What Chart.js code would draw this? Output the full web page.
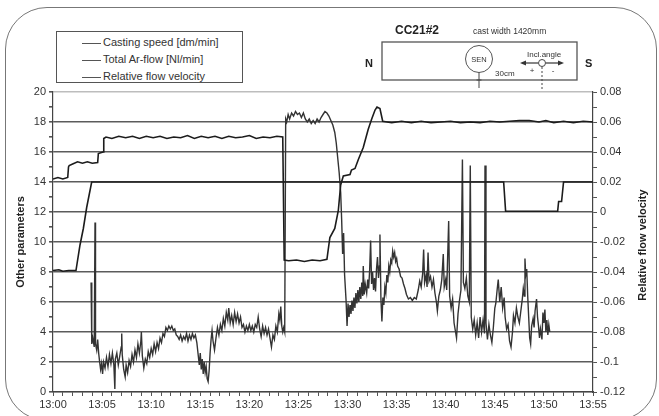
<!DOCTYPE html>
<html><head><meta charset="utf-8">
<script src="https://cdn.jsdelivr.net/npm/chart.js@4/dist/chart.umd.min.js"></script>
<style>
html,body{margin:0;padding:0;background:#fff;}
#wrap{position:relative;width:659px;height:416px;overflow:hidden;font-family:"Liberation Sans",Arial,sans-serif;background:#fff;}
#c{position:absolute;left:0;top:0;}
#frame{position:absolute;left:5px;top:7px;width:652px;height:414px;border:1.5px solid #777;border-radius:42px;box-sizing:border-box;pointer-events:none;}
#legend{position:absolute;left:56px;top:31px;width:187px;height:52px;border:1px solid #555;box-sizing:border-box;background:#fff;}
.row{position:absolute;left:25px;height:14px;font-size:11px;color:#333;line-height:14px;white-space:nowrap;}
.row i{display:inline-block;width:19px;height:0;border-top:1.5px solid #555;vertical-align:middle;margin-right:2px;}
#rtitle{position:absolute;left:642px;top:245px;transform:translate(-50%,-50%) rotate(-90deg);font-weight:bold;font-size:11px;color:#222;white-space:nowrap;}
#diag{position:absolute;left:0;top:0;}
</style></head>
<body>
<div id="wrap">
<canvas id="c" width="659" height="416"></canvas>
<div id="legend"></div>
<div id="rtitle"></div>
<svg id="diag" width="659" height="416" xmlns="http://www.w3.org/2000/svg" font-family="Liberation Sans, Arial, sans-serif">
  <text x="395" y="34" font-size="12" font-weight="bold" fill="#222">CC21#2</text>
  <text x="473" y="34" font-size="8.5" fill="#333">cast width 1420mm</text>
  <rect x="382" y="42" width="195" height="38" fill="none" stroke="#555" stroke-width="1.3"/>
  <text x="365" y="67" font-size="11" font-weight="bold" fill="#222">N</text>
  <text x="585" y="67" font-size="11" font-weight="bold" fill="#222">S</text>
  <circle cx="479" cy="59" r="13.5" fill="none" stroke="#555" stroke-width="1"/>
  <text x="479" y="62" font-size="7.5" fill="#333" text-anchor="middle">SEN</text>
  <line x1="479" y1="72.5" x2="479" y2="88" stroke="#444" stroke-width="1"/>
  <line x1="476.5" y1="80" x2="481.5" y2="80" stroke="#444" stroke-width="1"/>
  <text x="495" y="76" font-size="8" fill="#333">30cm</text>
  <text x="527" y="57" font-size="8" fill="#333">Incl.angle</text>
  <circle cx="542" cy="63" r="3.5" fill="#fff" stroke="#444" stroke-width="1"/>
  <line x1="538" y1="63" x2="524" y2="63" stroke="#333" stroke-width="1.2"/>
  <polygon points="520,63 526,60.5 526,65.5" fill="#333"/>
  <line x1="546" y1="63" x2="560" y2="63" stroke="#333" stroke-width="1.2"/>
  <polygon points="564,63 558,60.5 558,65.5" fill="#333"/>
  <text x="532" y="73" font-size="8" fill="#333" text-anchor="middle">+</text>
  <text x="553" y="73" font-size="8" fill="#333" text-anchor="middle">-</text>
  <line x1="542" y1="67" x2="542" y2="90" stroke="#444" stroke-width="1" stroke-dasharray="2,2"/>
</svg>
<div id="frame"></div>
</div>
<script>
// ---- labels ----
const seriesNames = ['Casting speed [dm/min]', 'Total Ar-flow [Nl/min]', 'Relative flow velocity'];
const leftTitle = 'Other parameters';
const rightTitle = 'Relative flow velocity';
const xTickLabels = ['13:00','13:05','13:10','13:15','13:20','13:25','13:30','13:35','13:40','13:45','13:50','13:55'];
const leftTickLabels = ['0','2','4','6','8','10','12','14','16','18','20'];
const rightTickLabels = ['-0.12','-0.1','-0.08','-0.06','-0.04','-0.02','0','0.02','0.04','0.06','0.08'];

// ---- casting speed (minutes after 13:00, dm/min) ----
const castTime  = [0, 0.6, 1.0, 1.6, 2.34, 2.75, 3.09, 3.43, 3.7, 3.94, 10, 20, 30, 40, 45.9, 46.1, 51.4, 51.5, 51.8, 52.0, 55];
const castSpeed = [8.1, 8.15, 8.05, 8.1, 8.1, 9.8, 10.9, 12.3, 13.2, 14.0, 14.0, 14.0, 14.0, 14.0, 14.0, 12.05, 12.05, 12.7, 12.7, 14.0, 14.0];

// ---- total Ar-flow (Nl/min) ----
const arTime = [0, 0.5, 1.0, 1.5, 1.58, 1.65, 2.0, 2.5, 3.0, 3.5, 4.0, 4.55, 4.62, 5.1, 5.17, 5.4, 6.0, 6.7, 7.4, 8.1, 8.8, 9.5, 10.2, 10.9, 11.6, 12.3, 13.0, 13.7, 14.4, 15.1, 15.8, 16.5, 17.2, 17.9, 18.6, 19.3, 20.0, 20.7, 21.4, 22.1, 22.8, 23.4, 23.55, 24.0, 24.8, 25.6, 26.4, 27.2, 27.9, 28.2, 28.7, 29.06, 29.3, 29.57, 30.25, 30.4, 30.76, 31.1, 31.6, 32.1, 32.46, 32.8, 33.0, 33.3, 33.58, 34.5, 35.5, 36.5, 37.5, 38.5, 39.5, 40.5, 41.5, 42.5, 43.5, 44.5, 45.5, 46.5, 47.5, 48.5, 49.5, 50.2, 51.0, 52.0, 53.0, 54.0, 55.0];
const arFlow = [14.2, 14.3, 14.2, 14.3, 15.0, 15.1, 15.2, 15.35, 15.25, 15.35, 15.25, 15.3, 15.9, 16.0, 16.9, 17.0, 16.9, 17.05, 16.95, 17.05, 16.9, 17.05, 16.95, 17.05, 16.9, 17.0, 16.95, 17.1, 16.9, 17.05, 16.95, 17.05, 16.9, 17.05, 16.95, 17.0, 17.1, 16.9, 17.0, 16.95, 17.05, 17.0, 8.8, 8.75, 8.8, 8.7, 8.8, 8.75, 8.85, 10.3, 10.9, 12.1, 13.8, 14.4, 14.5, 14.8, 14.9, 15.5, 16.3, 17.5, 18.2, 18.8, 19.0, 18.9, 18.05, 17.95, 18.05, 17.95, 18.05, 17.95, 18.0, 18.05, 17.95, 18.0, 17.95, 18.05, 18.0, 18.05, 18.1, 18.1, 18.0, 18.1, 17.95, 18.05, 17.95, 18.05, 18.0];

// ---- relative flow velocity (right axis) ----
const relTime = [3.88,3.95,4.05,4.2,4.28,4.33,4.45,4.55,4.65,4.75,4.85,4.95,5.05,5.15,5.3,5.45,5.6,5.75,5.9,6.05,6.2,6.3,6.35,6.5,6.65,6.8,6.95,7.0,7.05,7.2,7.35,7.45,7.6,7.75,7.9,8.05,8.2,8.35,8.5,8.65,8.8,8.95,9.0,9.1,9.25,9.4,9.55,9.7,9.85,10.0,10.15,10.3,10.45,10.6,10.75,10.9,11.05,11.2,11.35,11.5,11.65,11.8,11.95,12.1,12.25,12.4,12.55,12.7,12.85,13.0,13.15,13.3,13.45,13.6,13.75,13.9,14.05,14.2,14.35,14.5,14.65,14.8,14.9,15.0,15.1,15.2,15.3,15.4,15.5,15.6,15.7,15.8,15.9,16.0,16.1,16.2,16.3,16.45,16.6,16.75,16.9,17.05,17.2,17.35,17.5,17.65,17.8,17.9,18.05,18.2,18.35,18.5,18.65,18.8,18.95,19.1,19.25,19.4,19.55,19.7,19.85,20.0,20.15,20.3,20.45,20.6,20.75,20.9,21.05,21.2,21.35,21.5,21.65,21.8,21.95,22.1,22.25,22.4,22.55,22.7,22.85,23.0,23.1,23.2,23.3,23.4,23.5,23.6,23.7,23.8,23.95,24.1,24.3,24.5,24.7,24.9,25.1,25.3,25.5,25.7,25.9,26.1,26.3,26.5,26.7,26.9,27.1,27.3,27.5,27.7,27.9,28.1,28.3,28.5,28.7,28.85,29.0,29.15,29.3,29.4,29.5,29.6,29.7,29.85,29.95,30.05,30.15,30.25,30.35,30.45,30.55,30.65,30.75,30.85,30.95,31.05,31.15,31.25,31.35,31.45,31.55,31.6,31.7,31.8,31.95,32.05,32.15,32.25,32.35,32.45,32.55,32.65,32.75,32.85,32.95,33.05,33.15,33.25,33.3,33.4,33.5,33.6,33.7,33.8,33.9,34.0,34.1,34.2,34.3,34.4,34.5,34.6,34.7,34.8,34.9,35.0,35.1,35.25,35.4,35.55,35.7,35.85,36.0,36.2,36.4,36.6,36.8,37.0,37.2,37.35,37.5,37.65,37.75,37.85,38.0,38.1,38.2,38.3,38.45,38.6,38.75,38.9,39.05,39.15,39.3,39.45,39.6,39.75,39.85,40.0,40.1,40.3,40.4,40.55,40.7,40.85,41.0,41.1,41.25,41.4,41.55,41.7,41.8,41.95,42.1,42.25,42.4,42.5,42.6,42.75,42.9,43.05,43.2,43.35,43.5,43.65,43.8,43.95,44.0,44.1,44.25,44.4,44.55,44.7,44.85,45.0,45.1,45.25,45.35,45.5,45.65,45.8,45.95,46.05,46.2,46.35,46.5,46.65,46.8,46.9,47.05,47.2,47.35,47.5,47.65,47.8,47.9,48.0,48.07,48.15,48.25,48.35,48.45,48.55,48.65,48.75,48.9,49.0,49.1,49.25,49.35,49.45,49.55,49.65,49.8,49.9,50.0,50.1,50.2,50.3,50.4,50.5,50.6];
const relVel = [-0.047,-0.088,-0.084,-0.090,-0.007,-0.088,-0.092,-0.085,-0.094,-0.100,-0.105,-0.101,-0.108,-0.100,-0.104,-0.097,-0.103,-0.095,-0.101,-0.094,-0.102,-0.118,-0.098,-0.094,-0.102,-0.096,-0.090,-0.081,-0.095,-0.105,-0.110,-0.102,-0.107,-0.099,-0.103,-0.095,-0.100,-0.092,-0.097,-0.088,-0.094,-0.086,-0.080,-0.096,-0.104,-0.098,-0.101,-0.093,-0.097,-0.091,-0.095,-0.088,-0.093,-0.087,-0.091,-0.084,-0.087,-0.081,-0.083,-0.077,-0.079,-0.076,-0.078,-0.076,-0.079,-0.078,-0.082,-0.083,-0.085,-0.082,-0.086,-0.083,-0.085,-0.081,-0.086,-0.082,-0.085,-0.081,-0.084,-0.082,-0.087,-0.096,-0.102,-0.094,-0.105,-0.098,-0.108,-0.100,-0.107,-0.103,-0.111,-0.113,-0.106,-0.094,-0.085,-0.079,-0.086,-0.092,-0.084,-0.077,-0.082,-0.075,-0.079,-0.071,-0.076,-0.067,-0.072,-0.064,-0.074,-0.069,-0.075,-0.067,-0.073,-0.068,-0.074,-0.070,-0.077,-0.075,-0.080,-0.076,-0.079,-0.075,-0.079,-0.076,-0.080,-0.075,-0.077,-0.070,-0.078,-0.083,-0.076,-0.081,-0.077,-0.082,-0.078,-0.084,-0.090,-0.082,-0.085,-0.076,-0.080,-0.068,-0.072,-0.063,-0.076,-0.080,-0.077,-0.080,0.062,0.060,0.065,0.062,0.066,0.064,0.067,0.065,0.066,0.063,0.066,0.062,0.060,0.062,0.059,0.061,0.059,0.062,0.060,0.063,0.065,0.067,0.066,0.064,0.061,0.058,0.053,0.046,0.036,0.026,0.013,-0.005,-0.028,-0.014,-0.042,-0.059,-0.076,-0.061,-0.070,-0.062,-0.068,-0.059,-0.066,-0.057,-0.064,-0.054,-0.061,-0.052,-0.060,-0.050,-0.058,-0.047,-0.056,-0.036,-0.055,-0.048,-0.054,-0.045,-0.051,-0.039,-0.019,-0.048,-0.040,-0.052,-0.044,-0.053,-0.038,-0.030,-0.044,-0.036,-0.015,-0.058,-0.073,-0.057,-0.062,-0.050,-0.054,-0.042,-0.047,-0.036,-0.040,-0.032,-0.034,-0.026,-0.030,-0.027,-0.033,-0.031,-0.036,-0.038,-0.043,-0.044,-0.048,-0.051,-0.055,-0.058,-0.057,-0.059,-0.057,-0.058,-0.052,-0.046,-0.050,-0.041,-0.025,-0.047,-0.042,-0.050,-0.027,-0.046,-0.043,-0.050,-0.045,-0.054,-0.060,-0.066,-0.056,-0.052,-0.045,-0.028,-0.050,-0.045,-0.052,-0.006,-0.056,-0.064,-0.058,-0.074,-0.080,-0.084,-0.068,-0.059,-0.052,0.035,-0.047,-0.051,-0.044,-0.056,-0.060,0.031,-0.070,-0.078,-0.072,-0.082,-0.074,-0.084,-0.070,-0.080,-0.072,-0.081,0.031,-0.074,-0.085,-0.075,-0.082,-0.087,-0.077,-0.064,-0.061,-0.051,-0.045,-0.060,-0.050,-0.064,-0.057,-0.070,-0.078,-0.075,-0.086,-0.090,-0.080,-0.069,-0.074,-0.064,-0.070,-0.074,-0.066,-0.058,-0.051,-0.056,-0.031,-0.042,-0.038,-0.056,-0.070,-0.084,-0.088,-0.076,-0.071,-0.077,-0.066,-0.058,-0.070,-0.076,-0.084,-0.078,-0.085,-0.067,-0.074,-0.065,-0.080,-0.072,-0.082,-0.075,-0.080];

const FONT = 'Liberation Sans, Arial, sans-serif';
Chart.defaults.font.family = FONT;
Chart.defaults.font.size = 11;
Chart.defaults.color = '#333';

// legend + right title (HTML text)
const lg = document.getElementById('legend');
seriesNames.forEach((n, i) => {
  const d = document.createElement('div');
  d.className = 'row';
  d.style.top = (3 + i * 17) + 'px';
  d.innerHTML = '<i></i>' + n;
  lg.appendChild(d);
});
document.getElementById('rtitle').textContent = rightTitle;

const pts = (xs, ys) => xs.map((x, i) => ({x: x, y: ys[i]}));

new Chart(document.getElementById('c').getContext('2d'), {
  type: 'line',
  data: {
    datasets: [
      {label: seriesNames[0], data: pts(castTime, castSpeed), yAxisID: 'y', borderColor: '#1c1c1c', borderWidth: 1.6, pointRadius: 0, tension: 0},
      {label: seriesNames[1], data: pts(arTime, arFlow), yAxisID: 'y', borderColor: '#1c1c1c', borderWidth: 1.6, pointRadius: 0, tension: 0},
      {label: seriesNames[2], data: pts(relTime, relVel), yAxisID: 'y2', borderColor: '#333333', borderWidth: 1.4, pointRadius: 0, tension: 0}
    ]
  },
  options: {
    responsive: false,
    animation: false,
    layout: {padding: {top: 92, left: 0, right: 0, bottom: 0}},
    plugins: {legend: {display: false}, tooltip: {enabled: false}},
    scales: {
      x: {
        type: 'linear', min: 0, max: 55,
        ticks: {stepSize: 1, autoSkip: false, maxRotation: 0, padding: 2, color: '#333',
          callback: (v) => (v % 5 === 0 ? xTickLabels[v / 5] : '')},
        grid: {drawOnChartArea: false, tickLength: 4, tickColor: '#555'},
        border: {color: '#444', width: 1.2},
        afterFit: (s) => { s.height = 24; }
      },
      y: {
        position: 'left', min: 0, max: 20,
        ticks: {stepSize: 1, autoSkip: false, padding: 3, color: '#333',
          callback: (v) => (v % 2 === 0 ? leftTickLabels[v / 2] : '')},
        grid: {
          color: (c) => (c.tick.value === 20 ? '#bdbdbd' : (c.tick.value % 2 === 0 ? '#5c5c5c' : 'rgba(0,0,0,0)')),
          lineWidth: 1.6, tickLength: 4, tickColor: '#555'
        },
        border: {color: '#444', width: 1.2},
        title: {display: true, text: leftTitle, color: '#222', font: {weight: 'bold', size: 11}, padding: {top: 14, bottom: 0}},
        afterFit: (s) => { s.width = 53; }
      },
      y2: {
        position: 'right', min: -0.12, max: 0.08,
        ticks: {stepSize: 0.01, autoSkip: false, padding: 3, color: '#333',
          callback: (v) => { const k = Math.round((v + 0.12) * 100); return k % 2 === 0 ? rightTickLabels[k / 2] : ''; }},
        grid: {drawOnChartArea: false, tickLength: 4, tickColor: '#555'},
        border: {color: '#444', width: 1.2},
        afterFit: (s) => { s.width = 66; }
      }
    }
  }
});
</script>
</body></html>
